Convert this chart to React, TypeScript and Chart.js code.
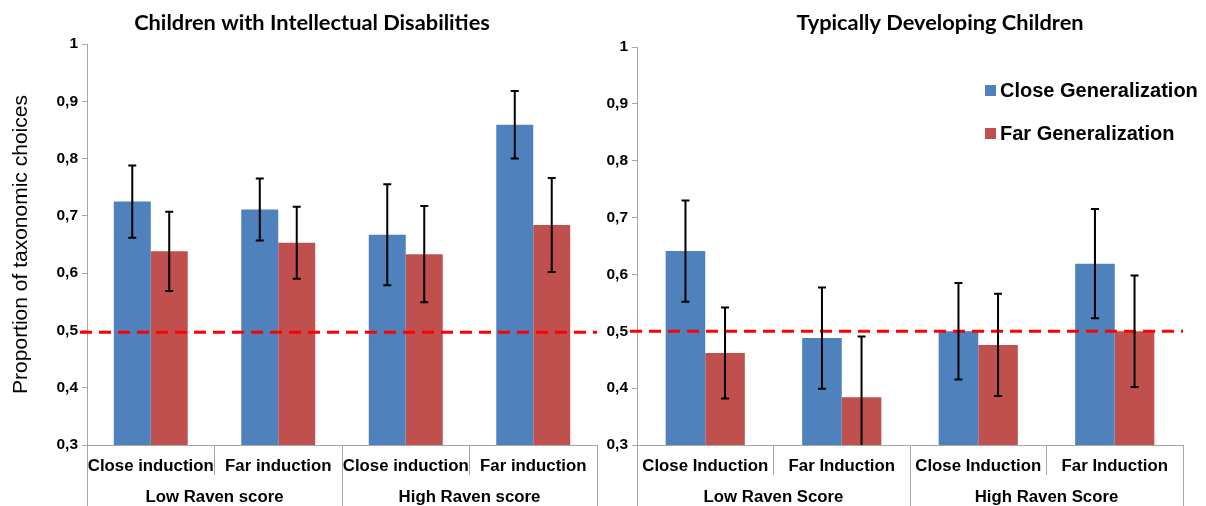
import React, { useEffect, useRef } from "react";
import { Chart, registerables } from "chart.js";

Chart.register(...registerables);

// ---------- data ----------
const leftTitle = "Children with Intellectual Disabilities";
const leftCategories = ["Close induction", "Far induction", "Close induction", "Far induction"];
const leftGroups = ["Low Raven score", "High Raven score"];
const leftClose = [0.725, 0.711, 0.667, 0.859];
const leftCloseErr = [0.063, 0.054, 0.088, 0.059];
const leftFar = [0.638, 0.653, 0.633, 0.684];
const leftFarErr = [0.069, 0.063, 0.084, 0.082];
const leftChance = 0.497;

const rightTitle = "Typically Developing Children";
const rightCategories = ["Close Induction", "Far Induction", "Close Induction", "Far Induction"];
const rightGroups = ["Low Raven Score", "High Raven Score"];
const rightClose = [0.641, 0.488, 0.5, 0.619];
const rightCloseErr = [0.089, 0.089, 0.085, 0.096];
const rightFar = [0.462, 0.384, 0.476, 0.5];
const rightFarErr = [0.08, 0.107, 0.09, 0.098];
const rightChance = 0.5;

const seriesNames = ["Close Generalization", "Far Generalization"];
const yTitle = "Proportion of taxonomic choices";
const yMin = 0.3;
const yMax = 1;
const yStep = 0.1;

const BLUE = "#4F81BD";
const RED = "#C0504D";
const AXIS = "#a6a6a6";
const ARIAL = "'Liberation Sans', Arial, sans-serif";

type Cfg = {
  title: string;
  titleX: number;
  categories: string[];
  groups: string[];
  close: number[];
  closeErr: number[];
  far: number[];
  farErr: number[];
  chance: number;
  axisWidth: number;
  padTop: number;
  padRight: number;
  showYTitle: boolean;
  showLegend: boolean;
  legendX: number;
};

const errorBarPlugin = {
  id: "errorBars",
  afterDatasetsDraw(chart: any, _args: any, opts: any) {
    const { ctx, chartArea, scales } = chart;
    const y = scales.y;
    // chance line
    ctx.save();
    ctx.strokeStyle = "#FF0000";
    ctx.lineWidth = 3;
    ctx.setLineDash([12, 7]);
    const cy = y.getPixelForValue(opts.chance);
    ctx.beginPath();
    ctx.moveTo(chartArea.left - 7, cy);
    ctx.lineTo(chartArea.right, cy);
    ctx.stroke();
    ctx.restore();
    // error bars
    ctx.save();
    ctx.beginPath();
    ctx.rect(chartArea.left, chartArea.top - 5, chartArea.right - chartArea.left, chartArea.bottom - chartArea.top + 5);
    ctx.clip();
    ctx.strokeStyle = "#000";
    ctx.lineWidth = 2;
    chart.data.datasets.forEach((ds: any, di: number) => {
      const meta = chart.getDatasetMeta(di);
      meta.data.forEach((bar: any, i: number) => {
        const v = ds.data[i];
        const e = ds.errors[i];
        const x = bar.x;
        const top = y.getPixelForValue(v + e);
        const bot = y.getPixelForValue(v - e);
        ctx.beginPath();
        ctx.moveTo(x, top);
        ctx.lineTo(x, bot);
        ctx.moveTo(x - 4, top);
        ctx.lineTo(x + 4, top);
        ctx.moveTo(x - 4, bot);
        ctx.lineTo(x + 4, bot);
        ctx.stroke();
      });
    });
    ctx.restore();
  },
  afterDraw(chart: any, _args: any, opts: any) {
    const { ctx } = chart;
    ctx.save();
    ctx.fillStyle = "#000";
    ctx.font = "bold 21.8px Lato, 'Open Sans', sans-serif";
    ctx.textAlign = "center";
    ctx.textBaseline = "middle";
    ctx.fillText(opts.title, opts.titleX, 23);
    if (opts.showLegend) {
      const items = chart.data.datasets;
      items.forEach((ds: any, i: number) => {
        const yy = 91 + i * 43;
        ctx.fillStyle = ds.backgroundColor;
        ctx.fillRect(opts.legendX, yy - 6, 11, 11);
        ctx.fillStyle = "#000";
        ctx.font = `bold 20px ${ARIAL}`;
        ctx.textAlign = "left";
        ctx.fillText(ds.label, opts.legendX + 15, yy);
      });
    }
    ctx.restore();
  },
};

function ChartPanel({ cfg, width }: { cfg: Cfg; width: number }) {
  const ref = useRef<HTMLCanvasElement | null>(null);
  useEffect(() => {
    if (!ref.current) return;
    const chart = new Chart(ref.current, {
      type: "bar",
      data: {
        labels: cfg.categories,
        datasets: [
          { label: seriesNames[0], data: cfg.close, errors: cfg.closeErr, backgroundColor: BLUE, borderWidth: 0 } as any,
          { label: seriesNames[1], data: cfg.far, errors: cfg.farErr, backgroundColor: RED, borderWidth: 0 } as any,
        ],
      },
      plugins: [errorBarPlugin],
      options: {
        animation: false,
        responsive: false,
        maintainAspectRatio: false,
        layout: { padding: { top: cfg.padTop, right: cfg.padRight, left: 0, bottom: 0 } },
        datasets: { bar: { categoryPercentage: 0.58, barPercentage: 1 } },
        plugins: {
          legend: { display: false },
          title: { display: false },
          tooltip: { enabled: false },
          errorBars: {
            chance: cfg.chance,
            title: cfg.title,
            titleX: cfg.titleX,
            showLegend: cfg.showLegend,
            legendX: cfg.legendX,
          },
        } as any,
        scales: {
          x: {
            type: "category",
            position: "bottom",
            offset: true,
            grid: { offset: true, drawOnChartArea: false, tickLength: 30, color: AXIS, lineWidth: 1 },
            border: { display: true, color: AXIS, width: 1 },
            ticks: {
              color: "#000",
              font: { family: ARIAL, size: 16.8, weight: "bold" },
              padding: -19,
              maxRotation: 0,
              autoSkip: false,
            },
            afterFit: (s: any) => {
              s.height = 30;
            },
          },
          x2: {
            type: "category",
            position: "bottom",
            labels: cfg.groups,
            offset: true,
            grid: { offset: true, drawOnChartArea: false, tickLength: 31, color: AXIS, lineWidth: 1 },
            border: { display: false },
            ticks: {
              color: "#000",
              font: { family: ARIAL, size: 16.8, weight: "bold" },
              padding: -19,
              maxRotation: 0,
              autoSkip: false,
            },
            afterFit: (s: any) => {
              s.height = 31;
            },
          } as any,
          y: {
            min: yMin,
            max: yMax,
            grid: { drawOnChartArea: false, tickLength: 5, color: AXIS },
            border: { display: true, color: AXIS, width: 1 },
            ticks: {
              stepSize: yStep,
              color: "#000",
              padding: 4,
              font: { family: ARIAL, size: 15.5, weight: "bold" },
              callback: (v: any) => (Math.abs(Number(v) - 1) < 1e-9 ? "1" : Number(v).toFixed(1).replace(".", ",")),
            },
            title: {
              display: cfg.showYTitle,
              text: yTitle,
              color: "#000",
              font: { family: ARIAL, size: 21, weight: "normal" },
              padding: { top: 9, bottom: 0 },
            },
            afterFit: (s: any) => {
              s.width = cfg.axisWidth;
            },
          },
        },
      } as any,
    });
    return () => chart.destroy();
  }, [cfg]);
  return <canvas ref={ref} width={width} height={506} style={{ display: "block", width, height: 506 }} />;
}

const leftCfg: Cfg = {
  title: leftTitle,
  titleX: 312,
  categories: leftCategories,
  groups: leftGroups,
  close: leftClose,
  closeErr: leftCloseErr,
  far: leftFar,
  farErr: leftFarErr,
  chance: leftChance,
  axisWidth: 87,
  padTop: 44,
  padRight: 3,
  showYTitle: true,
  showLegend: false,
  legendX: 0,
};

const rightCfg: Cfg = {
  title: rightTitle,
  titleX: 340,
  categories: rightCategories,
  groups: rightGroups,
  close: rightClose,
  closeErr: rightCloseErr,
  far: rightFar,
  farErr: rightFarErr,
  chance: rightChance,
  axisWidth: 37,
  padTop: 47,
  padRight: 23,
  showYTitle: false,
  showLegend: true,
  legendX: 385,
};

export default function App() {
  return (
    <div
      style={{
        position: "fixed",
        left: 0,
        top: 0,
        width: 1206,
        height: 506,
        background: "#fff",
        display: "flex",
        overflow: "hidden",
      }}
    >
      <ChartPanel cfg={leftCfg} width={600} />
      <ChartPanel cfg={rightCfg} width={606} />
    </div>
  );
}
